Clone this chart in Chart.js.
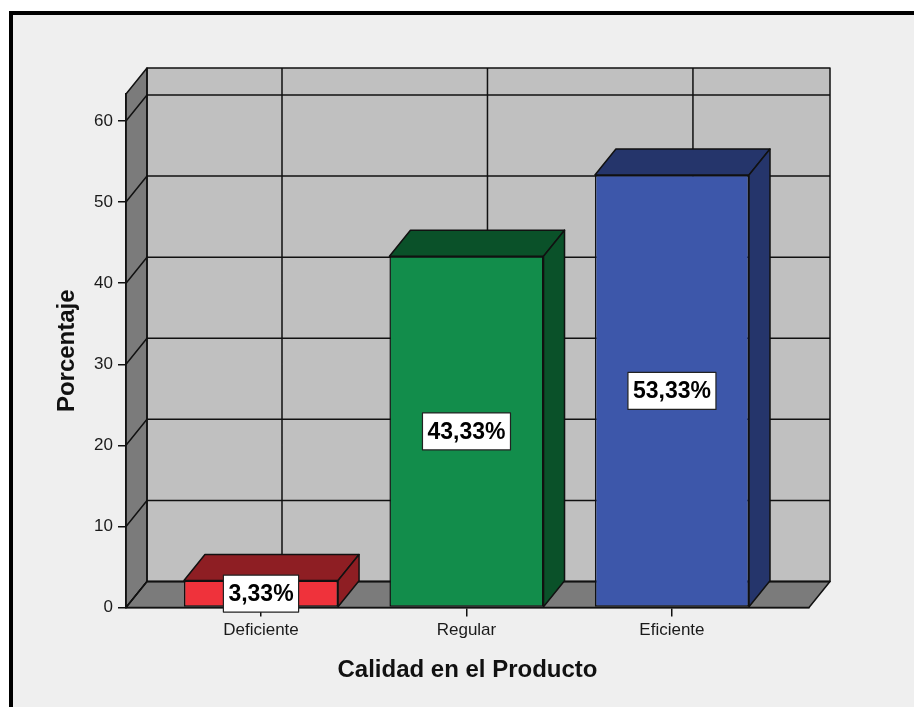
<!DOCTYPE html>
<html>
<head>
<meta charset="utf-8">
<script src="https://cdn.jsdelivr.net/npm/chart.js@4.4.1/dist/chart.umd.min.js"></script>
<style>
  html, body { margin: 0; padding: 0; background: #fff; }
  canvas { display: block; }
</style>
</head>
<body>
<canvas id="barChart" width="914" height="707"></canvas>
<script>
// Calidad en el Producto (porcentaje por categoria)
const categories = ["Deficiente", "Regular", "Eficiente"];
const percentages = [3.33, 43.33, 53.33];
const yTicks = [0, 10, 20, 30, 40, 50, 60];
const yMax = 63.33;

// colours: front face / top + side face
const frontColors = ["#ef323b", "#128d4b", "#3d57aa"];
const shadeColors = ["#8e1e23", "#0a5129", "#25356b"];

const DX = 21, DY = 26; // depth of the 3D box
const FONT = "'Liberation Sans', Arial, sans-serif";

function poly(ctx, pts, fill) {
    ctx.beginPath();
    ctx.moveTo(pts[0][0], pts[0][1]);
    for (let i = 1; i < pts.length; i++) ctx.lineTo(pts[i][0], pts[i][1]);
    ctx.closePath();
    ctx.fillStyle = fill;
    ctx.fill();
    ctx.stroke();
}

function fmtPct(v) {
    return v.toFixed(2).replace(".", ",") + "%";
}

const box3d = {
    id: "box3d",
    beforeDraw(chart) {
        const { ctx, chartArea: a, scales: { x, y } } = chart;
        ctx.save();
        // page + frame
        ctx.fillStyle = "#ffffff";
        ctx.fillRect(0, 0, chart.width, chart.height);
        ctx.fillStyle = "#efefef";
        ctx.fillRect(11, 13, chart.width, chart.height);
        ctx.strokeStyle = "#000";
        ctx.lineWidth = 4;
        ctx.beginPath();
        ctx.moveTo(11, chart.height);
        ctx.lineTo(11, 13);
        ctx.lineTo(chart.width, 13);
        ctx.stroke();

        ctx.lineWidth = 1.5;
        ctx.strokeStyle = "#111";
        ctx.lineJoin = "round";
        // back wall
        ctx.fillStyle = "#c0c0c0";
        ctx.fillRect(a.left + DX, a.top - DY, a.width, a.height);
        // left wall and floor
        poly(ctx, [[a.left, a.bottom], [a.left, a.top], [a.left + DX, a.top - DY], [a.left + DX, a.bottom - DY]], "#7b7b7b");
        poly(ctx, [[a.left, a.bottom], [a.left + DX, a.bottom - DY], [a.right + DX, a.bottom - DY], [a.right, a.bottom]], "#7b7b7b");

        // gridlines on the walls
        ctx.beginPath();
        yTicks.forEach(v => {
            const py = y.getPixelForValue(v);
            ctx.moveTo(a.left, py);
            ctx.lineTo(a.left + DX, py - DY);
            ctx.lineTo(a.right + DX, py - DY);
        });
        categories.forEach((c, i) => {
            const px = x.getPixelForValue(i) + DX;
            ctx.moveTo(px, a.top - DY);
            ctx.lineTo(px, a.bottom - DY);
        });
        ctx.stroke();
        ctx.strokeRect(a.left + DX, a.top - DY, a.width, a.height);
        ctx.restore();
    },
    afterDatasetsDraw(chart) {
        const { ctx } = chart;
        const meta = chart.getDatasetMeta(0);
        ctx.save();
        ctx.lineWidth = 1.5;
        ctx.strokeStyle = "#111";
        ctx.lineJoin = "round";
        meta.data.forEach((bar, i) => {
            const { x, y, base, width } = bar.getProps(["x", "y", "base", "width"], true);
            const l = x - width / 2, r = x + width / 2;
            poly(ctx, [[l, y], [l + DX, y - DY], [r + DX, y - DY], [r, y]], shadeColors[i]);
            poly(ctx, [[r, y], [r + DX, y - DY], [r + DX, base - DY], [r, base]], shadeColors[i]);
        });

        // value labels in white boxes
        ctx.font = "bold 23px " + FONT;
        ctx.textAlign = "center";
        ctx.textBaseline = "middle";
        meta.data.forEach((bar, i) => {
            const { x, y, base } = bar.getProps(["x", "y", "base"], true);
            const txt = fmtPct(percentages[i]);
            const cy = (y + base) / 2;
            const bw = ctx.measureText(txt).width + 10, bh = 37;
            ctx.fillStyle = "#fff";
            ctx.fillRect(x - bw / 2, cy - bh / 2, bw, bh);
            ctx.lineWidth = 1.2;
            ctx.strokeStyle = "#222";
            ctx.strokeRect(x - bw / 2, cy - bh / 2, bw, bh);
            ctx.fillStyle = "#000";
            ctx.fillText(txt, x, cy + 1);
        });
        ctx.restore();
    }
};

const ctx = document.getElementById("barChart").getContext("2d");

new Chart(ctx, {
    type: "bar",
    data: {
        datasets: [{
            data: categories.map((c, i) => ({ x: i, y: percentages[i] })),
            backgroundColor: frontColors,
            borderColor: "#111",
            borderWidth: 1.5,
            borderSkipped: false,
            barPercentage: 0.75,
            categoryPercentage: 1
        }]
    },
    options: {
        responsive: false,
        animation: false,
        layout: { padding: { left: 0, top: 94, right: 105, bottom: 0 } },
        plugins: {
            legend: { display: false },
            tooltip: { enabled: false }
        },
        scales: {
            x: {
                type: "linear",
                offset: false,
                min: -0.657,
                max: 2.667,
                afterBuildTicks: scale => {
                    scale.ticks = categories.map((c, i) => ({ value: i }));
                },
                afterFit: scale => { scale.height = 99.5; },
                grid: { offset: false, drawOnChartArea: false, drawTicks: true, tickLength: 9, color: "#111", lineWidth: 1.5 },
                border: { display: true, color: "#111", width: 1.5 },
                ticks: {
                    padding: 4,
                    color: "#1a1a1a",
                    font: { family: FONT, size: 17 },
                    callback: v => categories[v]
                },
                title: {
                    display: true,
                    text: "Calidad en el Producto",
                    color: "#111",
                    font: { family: FONT, size: 24, weight: "bold" },
                    padding: { top: 0, bottom: 22 }
                }
            },
            y: {
                min: 0,
                max: yMax,
                afterFit: scale => { scale.width = 126; },
                grid: { drawOnChartArea: false, drawTicks: true, tickLength: 8, color: "#111", lineWidth: 1.5 },
                border: { display: true, color: "#111", width: 1.5 },
                ticks: {
                    stepSize: 10,
                    includeBounds: false,
                    padding: 5,
                    color: "#1a1a1a",
                    font: { family: FONT, size: 17 }
                },
                title: {
                    display: true,
                    text: "Porcentaje",
                    color: "#111",
                    font: { family: FONT, size: 24, weight: "bold" },
                    padding: { top: 53, bottom: 0 }
                }
            }
        }
    },
    plugins: [box3d]
});
</script>
</body>
</html>
